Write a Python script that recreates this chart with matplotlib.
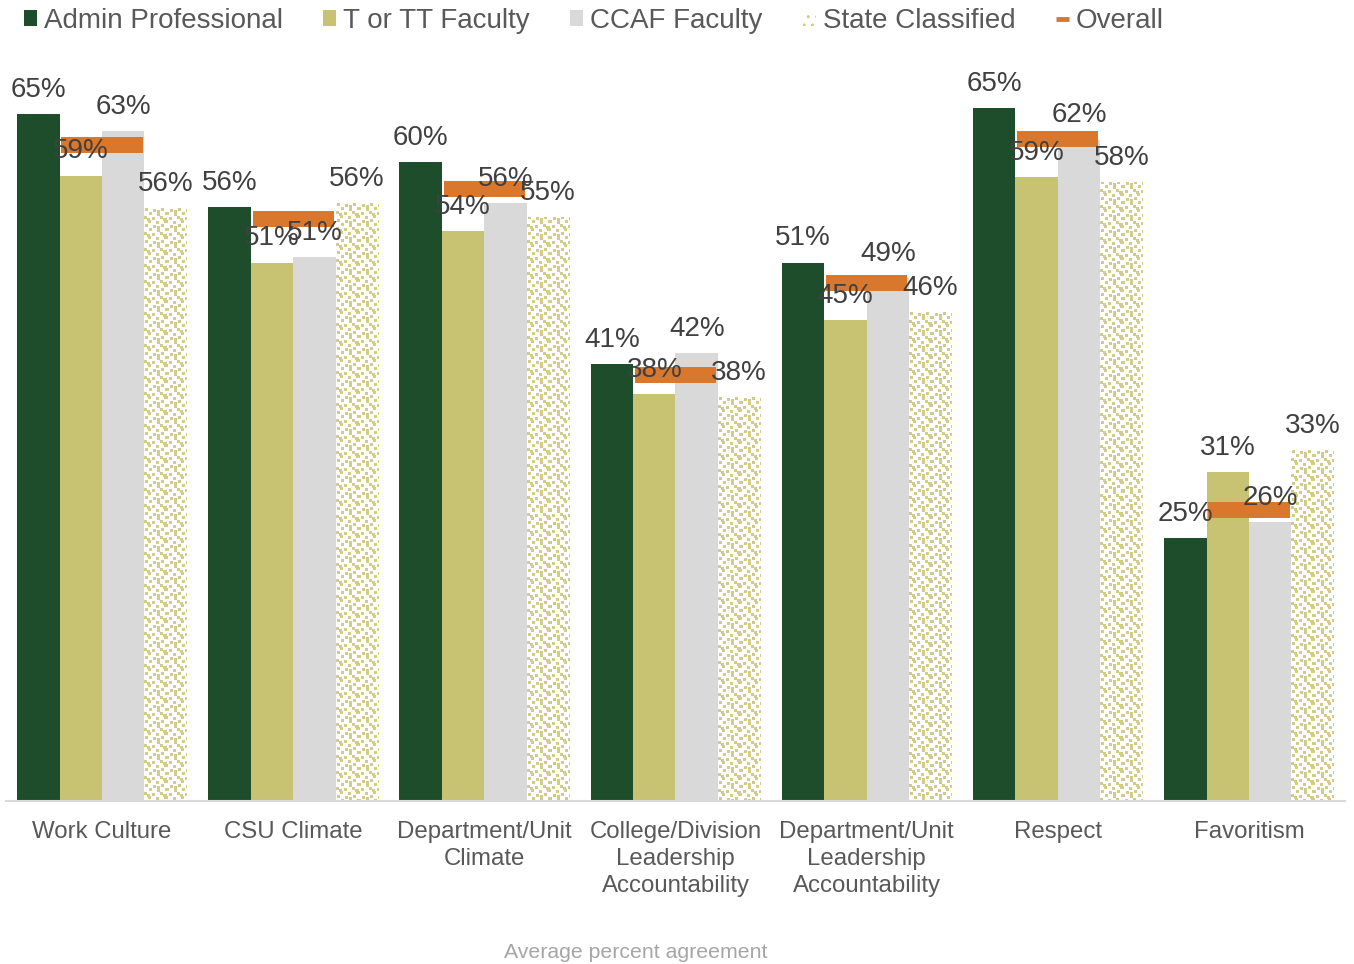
import numpy as np
import matplotlib
matplotlib.use("Agg")
import matplotlib.pyplot as plt
from matplotlib.patches import Patch
from matplotlib.lines import Line2D

# ---------------- data ----------------
categories = ["Work Culture", "CSU Climate", "Department/Unit\nClimate",
              "College/Division\nLeadership\nAccountability",
              "Department/Unit\nLeadership\nAccountability", "Respect", "Favoritism"]
series_names = ["Admin Professional", "T or TT Faculty", "CCAF Faculty", "State Classified"]
overall_name = "Overall"
admin_professional = [0.648, 0.560, 0.603, 0.412, 0.508, 0.654, 0.248]
t_or_tt_faculty = [0.590, 0.508, 0.538, 0.384, 0.454, 0.589, 0.310]
ccaf_faculty = [0.632, 0.513, 0.564, 0.423, 0.493, 0.624, 0.263]
state_classified = [0.559, 0.564, 0.551, 0.381, 0.461, 0.584, 0.331]
overall = [0.619, 0.549, 0.577, 0.402, 0.489, 0.625, 0.275]
x_title = "Average percent agreement"

# ---------------- style ----------------
plt.rcParams['font.family'] = ['Liberation Sans', 'DejaVu Sans']
colors = ['#1E4D2B', '#C8C372', '#D9D9D9', '#FFFFFF']
pattern_color = np.array([0xD2, 0xCC, 0x88]) / 255.0
overall_color = '#D9782D'
label_color = '#404040'

W, H = 1354, 964
fig = plt.figure(figsize=(W / 100, H / 100), dpi=100)
ax_l, ax_r, ax_b, ax_t = 6.4, 1344.6, 801.0, 59.0
ax = fig.add_axes([ax_l / W, 1 - ax_b / H, (ax_r - ax_l) / W, (ax_b - ax_t) / H])
ax.set_xlim(-0.5, 6.5)
ax.set_ylim(0, 0.70)

px_per_x = (ax_r - ax_l) / 7.0
px_per_y = (ax_b - ax_t) / 0.70

# confetti tile (16x16 px)
tile = np.zeros((16, 16), dtype=bool)
for (r, c) in [(0, 1), (1, 9), (4, 5), (5, 13), (8, 0), (9, 8), (12, 4), (13, 12),
               (2, 13), (10, 3)]:
    tile[r:r + 3, c:c + 3] = True
tile = tile.copy()

x = np.arange(len(categories))
bw = 0.222
offsets = [-1.5, -0.5, 0.5, 1.5]
series = [admin_professional, t_or_tt_faculty, ccaf_faculty, state_classified]

for i, (vals, col) in enumerate(zip(series, colors)):
    bars = ax.bar(x + offsets[i] * bw, vals, width=bw, color=col,
                  edgecolor='none', zorder=2)
    if i == 3:
        for b, v in zip(bars, vals):
            wpx = max(1, int(round(bw * px_per_x)))
            hpx = max(1, int(round(v * px_per_y)))
            reps = (hpx // 16 + 2, wpx // 16 + 2)
            big = np.tile(tile, reps)[:hpx, :wpx]
            img = np.ones((hpx, wpx, 4))
            img[big, :3] = pattern_color
            x0 = b.get_x()
            im = ax.imshow(img, extent=(x0, x0 + bw, 0, v), origin='upper',
                           interpolation='nearest', aspect='auto', zorder=2.5)
            im.set_clip_path(b)
    for b, v in zip(bars, vals):
        ax.annotate(f"{v * 100:.0f}%", (b.get_x() + b.get_width() / 2, v),
                    xytext=(0, 8), textcoords='offset points', ha='center',
                    va='bottom', fontsize=20, color=label_color, zorder=6)

lc = ax.hlines(overall, x - 0.212, x + 0.212, colors=overall_color, lw=11.5, zorder=4)
lc.set_capstyle('butt')

ax.set_xlim(-0.5, 6.5)
ax.set_ylim(0, 0.70)
ax.set_xticks(x)
ax.set_xticklabels(categories, linespacing=1.3)
ax.set_yticks([])
ax.tick_params(axis='x', length=0, pad=14.5, labelsize=17.3, labelcolor='#595959')
for s in ['top', 'left', 'right']:
    ax.spines[s].set_visible(False)
ax.spines['bottom'].set_color('#D9D9D9')
ax.spines['bottom'].set_linewidth(1.5)

fig.text(636 / W, 1 - 953 / H, x_title, ha='center', va='center',
         fontsize=15.3, color='#A6A6A6')

handles = [Patch(facecolor=colors[0], edgecolor='none'),
           Patch(facecolor=colors[1], edgecolor='none'),
           Patch(facecolor=colors[2], edgecolor='none'),
           Patch(facecolor='white', edgecolor=pattern_color, hatch='..', lw=0),
           Line2D([0], [0], color=overall_color, lw=3.5, solid_capstyle='butt')]
labels = series_names + [overall_name]
fig.legend(handles, labels, loc='upper left', bbox_to_anchor=(24 / W, 1 - 8 / H),
           ncol=5, frameon=False, fontsize=20, handlelength=0.47, handleheight=0.47,
           handletextpad=0.25, columnspacing=1.45, borderpad=0, borderaxespad=0,
           labelcolor='#595959')

fig.savefig("out.png", dpi=100)
